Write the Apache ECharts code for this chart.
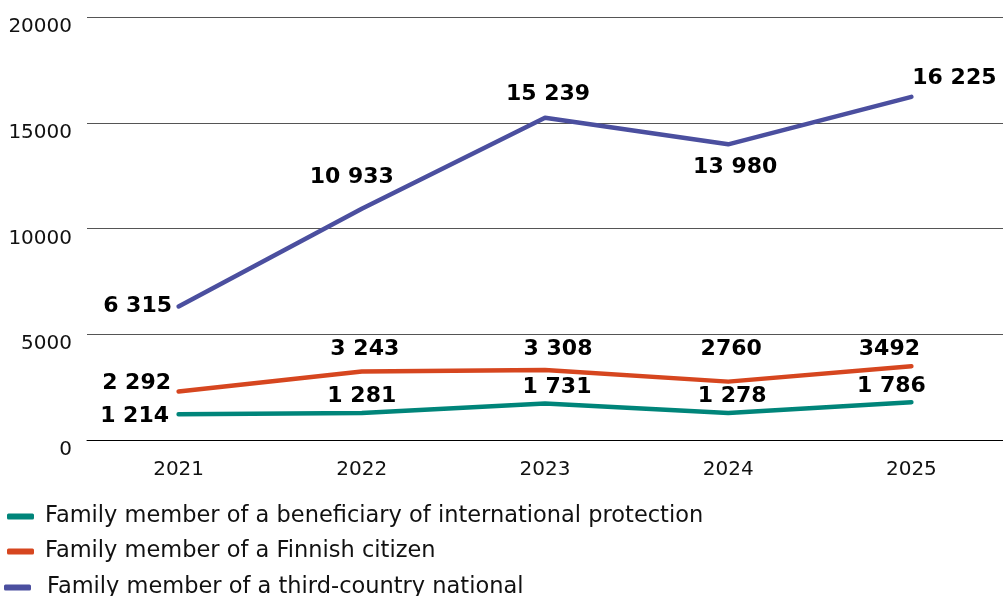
<!DOCTYPE html>
<html><head><meta charset="utf-8">
<script src="https://cdn.jsdelivr.net/npm/echarts@6/dist/echarts.min.js"></script>
<style>html,body{margin:0;padding:0;background:#fff}#c{width:1003px;height:596px}</style>
</head><body><div id="c"></div>
<script>
const categories = ['2021','2022','2023','2024','2025'];
const seriesNames = [
  'Family member of a beneficiary of international protection',
  'Family member of a Finnish citizen',
  'Family member of a third-country national'
];
const protectionValues = [1214, 1281, 1731, 1278, 1786];
const finnishValues = [2292, 3243, 3308, 2760, 3492];
const thirdCountryValues = [6315, 10933, 15239, 13980, 16225];
const protectionLabels = ['1 214','1 281','1 731','1 278','1 786'];
const finnishLabels = ['2 292','3 243','3 308','2760','3492'];
const thirdCountryLabels = ['6 315','10 933','15 239','13 980','16 225'];
const yTicks = [0, 5000, 10000, 15000, 20000];

// label layout (center offsets from point, px)
const protectionOffsets = [[-44,2],[0,-16],[12,-16],[4,-16],[-20,-15]];
const finnishOffsets = [[-42,-8],[3,-22],[13,-20],[3,-32],[-22,-16]];
const thirdOffsets = [[-41,0],[-10,-31],[3,-23],[7,23],[43,-18]];
const legendTops = [505, 540, 576];
const legendLefts = [7, 7, 4];
const legendTextGaps = [6, 6, 11];

const colors = ['#00857a', '#d6461f', '#4b4f9f'];

function build(values, labels, offsets) {
  return values.map((v, i) => ({
    value: v,
    label: {
      show: true,
      formatter: labels[i],
      position: 'top',
      distance: 0,
      align: 'center',
      verticalAlign: 'middle',
      offset: offsets[i]
    }
  }));
}

const chart = echarts.init(document.getElementById('c'));
const labelStyle = {fontFamily: 'DejaVu Sans', fontWeight: 'bold', fontSize: 22, color: '#000'};
function mk(idx, values, labels, offsets) {
  return {
    name: seriesNames[idx],
    type: 'line',
    data: build(values, labels, offsets),
    symbol: 'circle',
    symbolSize: 1,
    showSymbol: true,
    lineStyle: {width: 4.5, color: colors[idx], cap: 'round', join: 'round'},
    itemStyle: {color: colors[idx]},
    label: Object.assign({show: true}, labelStyle),
    emphasis: {disabled: true},
    animation: false
  };
}
const legends = seriesNames.map((n, i) => ({
  orient: 'vertical',
  left: legendLefts[i],
  top: legendTops[i],
  padding: 0,
  itemWidth: 27,
  itemHeight: 6,
  icon: 'roundRect',
  selectedMode: false,
  textStyle: {fontFamily: 'DejaVu Sans', fontSize: 22.5, color: '#111', lineHeight: 22, padding: [0,0,0,legendTextGaps[i]]},
  data: [n]
}));
chart.setOption({
  animation: false,
  grid: {left: 87, right: 0, top: 17, bottom: 156},
  legend: legends,
  xAxis: {
    type: 'category',
    data: categories,
    boundaryGap: true,
    axisLine: {lineStyle: {color: '#000', width: 1}},
    axisTick: {show: false},
    axisLabel: {fontFamily: 'DejaVu Sans', fontSize: 20, color: '#111', margin: 20}
  },
  yAxis: {
    type: 'value',
    min: 0, max: 20000, interval: 5000,
    axisLine: {show: false},
    axisTick: {show: false},
    splitLine: {lineStyle: {color: '#555', width: 1}},
    axisLabel: {
      fontFamily: 'DejaVu Sans', fontSize: 20, color: '#111', margin: 15,
      verticalAlign: 'top', lineHeight: 20,
      formatter: v => yTicks.includes(v) ? String(v) : ''
    }
  },
  series: [
    mk(0, protectionValues, protectionLabels, protectionOffsets),
    mk(1, finnishValues, finnishLabels, finnishOffsets),
    mk(2, thirdCountryValues, thirdCountryLabels, thirdOffsets)
  ]
});
</script></body></html>
